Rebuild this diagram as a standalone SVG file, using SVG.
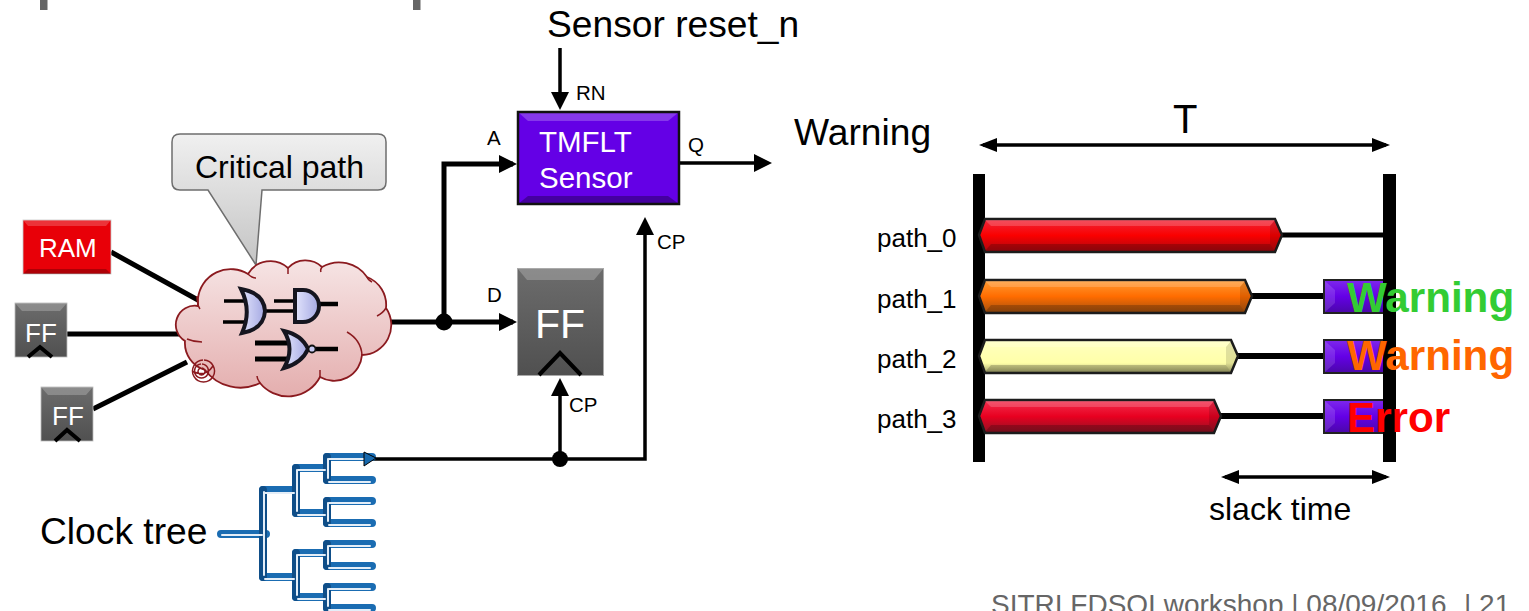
<svg xmlns="http://www.w3.org/2000/svg" width="1529" height="611" viewBox="0 0 1529 611">
<style>
text{font-family:"Liberation Sans",Arial,sans-serif;fill:#000}
.w{fill:#fff}
.c{fill:none;stroke:#000;stroke-linejoin:miter}
.t5{stroke-width:5}
.t4{stroke-width:3.5}
.sm{font-size:20.500px}
.p{font-size:26px}
.big{font-size:37.200px}
.b{font-size:42.200px;font-weight:bold}
.gate{fill:url(#gate);stroke:#15151f;stroke-width:4}
.g{fill:none;stroke:#000;stroke-width:4}
.ct{fill:none;stroke:#1a6cb2;stroke-width:8;stroke-linecap:round}
.cv{fill:none;stroke:#0f4e88;stroke-width:8;stroke-linecap:round}
.ci{fill:none;stroke:#e4eef8;stroke-width:2;stroke-linecap:round}
.cl{fill:none;stroke:#8b1a1f;stroke-width:1.5}
.bar{stroke:#1c1c1c;stroke-width:2.500}
.hl{fill:#fff;opacity:.18}
.sh{fill:#000;opacity:.2}
.end{fill:#000;opacity:.12}
</style>
<defs>
<marker id="a" viewBox="0 0 18 18" refX="14" refY="9" markerWidth="18" markerHeight="18" markerUnits="userSpaceOnUse" orient="auto-start-reverse"><path d="M0,0L18,9L0,18Z"/></marker>
<marker id="a2" viewBox="0 0 18 14" refX="14" refY="7" markerWidth="18" markerHeight="14" markerUnits="userSpaceOnUse" orient="auto-start-reverse"><path d="M0,0L18,7L0,14Z"/></marker>
<linearGradient id="call" x1="0" y1="0" x2="0" y2="1"><stop offset="0" stop-color="#f0f0f0"/><stop offset="1" stop-color="#c4c4c4"/></linearGradient>
<linearGradient id="cloud" x1="0" y1="0" x2="0" y2="1"><stop offset="0" stop-color="#f6e4e4"/><stop offset="1" stop-color="#e4aeae"/></linearGradient>
<linearGradient id="gate" x1="0" y1="0" x2="1" y2="0"><stop offset="0" stop-color="#e2e4fc"/><stop offset="1" stop-color="#a4a8e2"/></linearGradient>
<linearGradient id="red" x1="0" y1="0" x2="0" y2="1"><stop offset="0" stop-color="#f0283c"/><stop offset=".5" stop-color="#fa0000"/><stop offset="1" stop-color="#a80810"/></linearGradient>
<linearGradient id="orange" x1="0" y1="0" x2="0" y2="1"><stop offset="0" stop-color="#ff9c34"/><stop offset=".5" stop-color="#ff6c00"/><stop offset="1" stop-color="#a05010"/></linearGradient>
<linearGradient id="yellow" x1="0" y1="0" x2="0" y2="1"><stop offset="0" stop-color="#ffffc0"/><stop offset=".7" stop-color="#ffffa8"/><stop offset="1" stop-color="#a0a068"/></linearGradient>
<linearGradient id="crim" x1="0" y1="0" x2="0" y2="1"><stop offset="0" stop-color="#f43050"/><stop offset=".5" stop-color="#e80020"/><stop offset="1" stop-color="#8c1424"/></linearGradient>
<linearGradient id="purple" x1="0" y1="0" x2="0" y2="1"><stop offset="0" stop-color="#7e28ec"/><stop offset=".5" stop-color="#6400e6"/><stop offset="1" stop-color="#4a08a8"/></linearGradient>
<linearGradient id="grey" x1="0" y1="0" x2="0" y2="1"><stop offset="0" stop-color="#6c6c6c"/><stop offset="1" stop-color="#505050"/></linearGradient>
</defs>

<rect x="40" y="0" width="7.500" height="10" fill="#666"/>
<rect x="413" y="0" width="7.500" height="10" fill="#666"/>

<g id="connectors">
<line class="c t5" x1="111" y1="252" x2="198" y2="300"/>
<line class="c t5" x1="67" y1="334" x2="184" y2="334"/>
<line class="c t5" x1="93" y1="409" x2="187" y2="362"/>
<line class="c t5" x1="388" y1="322" x2="513" y2="322" marker-end="url(#a)"/>
<polyline class="c t5" points="444,322 444,164 513,164" marker-end="url(#a)"/>
<line class="c t4" x1="680" y1="163" x2="768" y2="163" marker-end="url(#a)"/>
<line class="c t4" x1="560" y1="48" x2="560" y2="106" marker-end="url(#a)"/>
<polyline class="c t4" points="372,459 645,459 645,221" marker-end="url(#a)"/>
<line class="c t4" x1="560" y1="459" x2="560" y2="382" marker-end="url(#a)"/>
<circle cx="444" cy="322" r="8.500"/>
<circle cx="560" cy="459" r="8"/>
<line class="c t4" x1="983" y1="145" x2="1386" y2="145" marker-start="url(#a2)" marker-end="url(#a2)"/>
<line class="c t4" x1="1225" y1="477" x2="1386" y2="477" marker-start="url(#a2)" marker-end="url(#a2)"/>
<line class="c" stroke-width="5" x1="1280" y1="235" x2="1384" y2="235"/>
<line class="c" stroke-width="6" x1="1250" y1="296" x2="1324" y2="296"/>
<line class="c" stroke-width="6" x1="1236" y1="356" x2="1324" y2="356"/>
<line class="c" stroke-width="6" x1="1219" y1="416" x2="1324" y2="416"/>
</g>

<g id="sensor-reset"><text x="547" y="37" class="big">Sensor reset_n</text><text x="576" y="100" class="sm">RN</text></g>

<g id="critical-callout">
<path d="M180,134H378Q386,134 386,142V182Q386,190 378,190H262L256,265L208,190H180Q172,190 172,182V142Q172,134 180,134Z" fill="url(#call)" stroke="#6e6e6e" stroke-width="1.500"/>
<text x="195" y="178" font-size="32">Critical path</text>
</g>

<g id="ram">
<rect x="23" y="220" width="88" height="54" fill="#e80008" stroke="#c8c8c8" stroke-width=".8"/>
<path d="M23,220H111L106,226H28Z" fill="#fff" opacity=".2"/>
<path d="M23,274H111L106,269H28Z" fill="#000" opacity=".25"/>
<text x="39" y="257" class="p w">RAM</text>
</g>
<g id="ff-1">
<rect x="15" y="303" width="52" height="54" fill="url(#grey)" stroke="#bbb" stroke-width=".8"/>
<path d="M15,303H67L60,311H22Z" fill="#fff" opacity=".22"/>
<text x="25" y="342" class="p w">FF</text>
<polyline class="g" points="28,357 40,347 52,357"/>
</g>
<g id="ff-2">
<rect x="41" y="387" width="52" height="54" fill="url(#grey)" stroke="#bbb" stroke-width=".8"/>
<path d="M41,387H93L86,395H48Z" fill="#fff" opacity=".22"/>
<text x="52" y="425" class="p w">FF</text>
<polyline class="g" points="55,441 67,430 80,441"/>
</g>

<g id="cloud">
<path d="M198,298A33,33 0 0 1 248,274A26,26 0 0 1 288,268A24,24 0 0 1 322,267A34,34 0 0 1 367,277A30,30 0 0 1 386,308A30,30 0 0 1 362,355A28,28 0 0 1 320,377A36,36 0 0 1 260,383A44,44 0 0 1 205,370A28,28 0 0 1 185,341A19,19 0 0 1 198,306Z" fill="url(#cloud)" stroke="#8b1a1f" stroke-width="1.800"/>
<path class="cl" d="M197,296Q197,305 200,309M187,339Q194,342 202,342M367,277Q368,280 372,282M386,308Q383,313 377,316M347,332Q361,340 362,355M320,377Q320,373 320,370M260,383Q257,379 257,376M248,274Q252,278 256,278M288,268Q288,272 288,274M322,267Q320,270 321,272"/>
<path class="cl" d="M204,360a11,11 0 1 1 -1,0M201,364a7,7 0 1 0 1,0M201,368a3.500,3.500 0 1 0 1,0M192,371Q205,378 213,366" stroke-width="1.500"/>
<g id="gates">
<path class="c" stroke-width="3.500" d="M224,301H246M223,322H246M274,301H296M265,311H296"/>
<path class="c" stroke-width="5" d="M255,343H290M255,359H290"/>
<path class="c" stroke-width="4.500" d="M318,304H338M314,349H338"/>
<path class="gate" d="M241,289Q264,293 265,311Q264,329 242,333Q252,311 241,289Z"/>
<path class="gate" d="M295,290H303A16,16 0 0 1 303,322H295Z"/>
<path class="gate" d="M284,331Q302,335 308,349Q302,363 284,368Q295,349 284,331Z"/>
<circle cx="312" cy="349" r="3.500" fill="#c8caf2" stroke="#111" stroke-width="1.800"/>
</g>
</g>

<g id="tmflt-sensor">
<rect x="517.500" y="111.500" width="162" height="93" fill="#6400e6" stroke="#999" stroke-width="1"/>
<path d="M518,112H679L668,121H528Z" fill="#fff" opacity=".22"/>
<path d="M518,204H679L668,196H528Z" fill="#000" opacity=".3"/>
<rect x="518" y="112" width="161" height="92" fill="none" stroke="#111" stroke-width="2.500"/>
<text x="539" y="152" font-size="29.500" class="w">TMFLT</text>
<text x="539" y="188" font-size="29.500" class="w">Sensor</text>
</g>
<g id="ff-big">
<rect x="517.500" y="268.500" width="86" height="107" fill="url(#grey)" stroke="#aaa" stroke-width="1"/>
<path d="M518,269H603L594,280H527Z" fill="#fff" opacity=".22"/>
<text x="535" y="338" font-size="41" class="w">FF</text>
<polyline class="g" points="539,375 560,353 581,375"/>
</g>
<g id="labels"><text x="487" y="145" class="sm">A</text><text x="487" y="302" class="sm">D</text><text x="688" y="152" class="sm">Q</text><text x="657" y="249" class="sm">CP</text><text x="569" y="412" class="sm">CP</text></g>
<g id="warning"><text x="794" y="145" class="big">Warning</text></g>

<g id="clock-tree">
<text x="40" y="544" class="big">Clock tree</text>
<path class="ct" d="M221,534H266M263,490H296M263,577H296M296,468H327M296,513H327M296,553H327M296,597H327M327,457H372M327,480H372M327,501H372M327,523H372M327,544H372M327,566H372M327,587H372M327,608H372"/>
<path class="cv" d="M263,490V577M296,468V513M296,553V597M327,457V480M327,501V523M327,544V566M327,587V608"/>
<path class="ci" d="M222,535H262M264,492V575M265,493H294M265,579H294M297,470V511M297,555V595M298,470H325M298,515H325M298,555H325M298,599H325M328,459V478M328,503V521M328,546V564M328,589V606M329,459H370M329,482H370M329,503H370M329,525H370M329,546H370M329,568H370M329,589H370M329,610H370"/>
<path d="M364,452L376,458L364,466Z" fill="#1668ad" stroke="#000" stroke-width="1"/>
</g>

<g id="timing">
<text x="1173" y="133" font-size="40">T</text>
<rect x="973" y="174" width="12" height="288"/>
<g id="slack-0"><rect x="1324" y="280" width="60" height="33" fill="url(#purple)" stroke="#222" stroke-width="2"/><path d="M1325,281L1335,290V303L1325,312Z" fill="#fff" opacity=".14"/></g>
<g id="slack-1"><rect x="1324" y="340" width="60" height="33" fill="url(#purple)" stroke="#222" stroke-width="2"/><path d="M1325,341L1335,350V363L1325,372Z" fill="#fff" opacity=".14"/></g>
<g id="slack-2"><rect x="1324" y="400" width="60" height="33" fill="url(#purple)" stroke="#222" stroke-width="2"/><path d="M1325,401L1335,410V423L1325,432Z" fill="#fff" opacity=".14"/></g>
<rect x="1383" y="174" width="13" height="288"/>
<g id="path-0">
<path class="bar" fill="url(#red)" d="M979,235L985,219H1275L1282,235L1275,252H985Z"/>
<path class="hl" d="M985,220H1275L1270,226H991Z"/><path class="sh" d="M985,251H1275L1270,244H991Z"/><path class="end" d="M1275,220L1281,235L1275,251L1270,244V226Z"/>
<text x="877" y="247" class="p">path_0</text>
</g>
<g id="path-1">
<path class="bar" fill="url(#orange)" d="M979,296L985,280H1245L1252,296L1245,313H985Z"/>
<path class="hl" d="M985,281H1245L1240,287H991Z"/><path class="sh" d="M985,312H1245L1240,305H991Z"/><path class="end" d="M1245,281L1251,296L1245,312L1240,305V287Z"/>
<text x="877" y="308" class="p">path_1</text>
</g>
<g id="path-2">
<path class="bar" fill="url(#yellow)" d="M979,356L985,340H1231L1238,356L1231,373H985Z"/>
<path class="hl" d="M985,341H1231L1226,347H991Z"/><path class="sh" d="M985,372H1231L1226,365H991Z"/><path class="end" d="M1231,341L1237,356L1231,372L1226,365V347Z"/>
<text x="877" y="368" class="p">path_2</text>
</g>
<g id="path-3">
<path class="bar" fill="url(#crim)" d="M979,416L985,400H1214L1221,416L1214,433H985Z"/>
<path class="hl" d="M985,401H1214L1209,407H991Z"/><path class="sh" d="M985,432H1214L1209,425H991Z"/><path class="end" d="M1214,401L1220,416L1214,432L1209,425V407Z"/>
<text x="877" y="428" class="p">path_3</text>
</g>
<text x="1347" y="312" class="b" style="fill:#33cc33">Warning</text>
<text x="1347" y="370" class="b" style="fill:#ff6600">Warning</text>
<text x="1347" y="432" class="b" style="fill:#ff0000">Error</text>
<text x="1209" y="520" font-size="32">slack time</text>
</g>

<g id="footer" font-size="28">
<text x="991" y="614" style="fill:#666">SITRI FDSOI workshop | 08/09/2016</text>
<text x="1464" y="614" style="fill:#666">| 21</text>
</g>
</svg>
